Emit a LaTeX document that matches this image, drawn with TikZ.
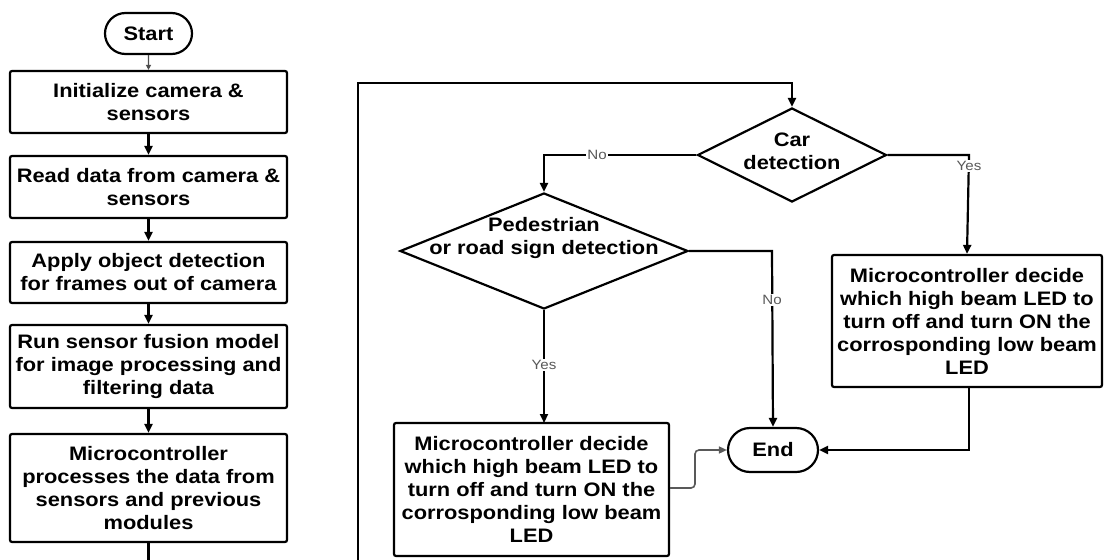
\documentclass[tikz,border=0pt]{standalone}
\usepackage{fontspec}
\setmainfont[FakeStretch=1.12]{Liberation Sans}
\usetikzlibrary{shapes.geometric,shapes.misc,arrows.meta}
\tikzset{
  proc/.style={draw=black, line width=2.2pt, rounded corners=2pt, align=center, inner sep=2pt,
    font=\fontsize{19.5}{23}\selectfont\bfseries},
  term/.style={draw=black, line width=2.2pt, rounded rectangle, align=center, inner sep=2pt,
    font=\fontsize{19.5}{23}\selectfont\bfseries},
  dec/.style={draw=black, line width=2.2pt, diamond, inner sep=0pt},
  dectext/.style={align=center, inner sep=0pt, font=\fontsize{19.5}{23}\selectfont\bfseries},
  conn/.style={line width=2.2pt, -{Triangle[length=9pt,width=8pt]}},
  plain/.style={line width=2.2pt},
  lbl/.style={fill=white, text=black!65, inner sep=1pt, font=\fontsize{13.5}{15}\selectfont}
}
\begin{document}
\begin{tikzpicture}[x=1pt,y=-1pt]
\useasboundingbox[fill=white] (0,0) rectangle (1104,560);
% left column
\node[term, minimum width=91, minimum height=41] (start) at (148.5,33.5) {Start};
\node[proc, minimum width=277, minimum height=62] (b1) at (148.5,102) {Initialize camera \&\\sensors};
\node[proc, minimum width=277, minimum height=62] (b2) at (148.5,187) {Read data from camera \&\\sensors};
\node[proc, minimum width=277, minimum height=61] (b3) at (148.5,272.5) {Apply object detection\\for frames out of camera};
\node[proc, minimum width=277, minimum height=83] (b4) at (148.5,366.5) {Run sensor fusion model\\for image processing and\\filtering data};
\node[proc, minimum width=277, minimum height=108] (b5) at (148.5,488) {Microcontroller\\processes the data from\\sensors and previous\\modules};
\coordinate (b5out) at (148.5,560);
% loop
\coordinate (lb) at (358,560);
\coordinate (lt) at (358,83);
\coordinate (rt) at (792,83);
% decisions
\node[dec, minimum width=189, minimum height=94] (car) at (792,155) {};
\node[dectext] (cart) at (792,151.5) {Car\\detection};
\node[dec, minimum width=288, minimum height=116] (ped) at (544,251) {};
\node[dectext] (pedt) at (544,238) {Pedestrian\\or road sign detection};
% action boxes
\node[proc, minimum width=270, minimum height=132] (mcr) at (967,321) {Microcontroller decide\\which high beam LED to\\turn off and turn ON the\\corrosponding low beam\\LED};
\node[proc, minimum width=275, minimum height=133] (mcl) at (531.5,489.5) {Microcontroller decide\\which high beam LED to\\turn off and turn ON the\\corrosponding low beam\\LED};
\node[term, minimum width=94, minimum height=44] (end) at (773,450) {End};
\coordinate (pedNo) at (772,251);
\coordinate (carNo) at (544,155);
\coordinate (carYes) at (969,155);
\coordinate (mcrDown) at (969,450);
\coordinate (mclA) at (695,488);
\coordinate (mclB) at (695,450);
% connectors
\draw[conn, line width=1.4pt, draw=black!70, -{Triangle[length=5pt,width=5pt]}] (start) -- (b1);
\draw[conn] (b1) -- (b2);
\draw[conn] (b2) -- (b3);
\draw[conn] (b3) -- (b4);
\draw[conn] (b4) -- (b5);
\draw[plain] (b5) -- (b5out);
\draw[conn] (lb) -- (lt) -- (rt) -- (car.north);
\draw[conn] (car.west) -- (carNo) -- (ped.north);
\node[lbl] (lno1) at (597,155) {No};
\draw[conn] (car.east) -- (carYes) -- (mcr.north);
\node[lbl] (lyes1) at (969,166) {Yes};
\draw[conn] (ped.east) -- (pedNo) -- (end.north);
\node[lbl] (lno2) at (772,300) {No};
\draw[conn] (ped.south) -- (544,423);
\node[lbl] (lyes2) at (544,365) {Yes};
\draw[conn] (mcr.south -| mcrDown) -- (mcrDown) -- (end.east);
\draw[conn, line width=1.6pt, draw=black!65, rounded corners=4pt, -{Triangle[length=8pt,width=7pt]}] (mcl.east |- mclA) -- (mclA) -- (mclB) -- (end.west);
\end{tikzpicture}
\end{document}
